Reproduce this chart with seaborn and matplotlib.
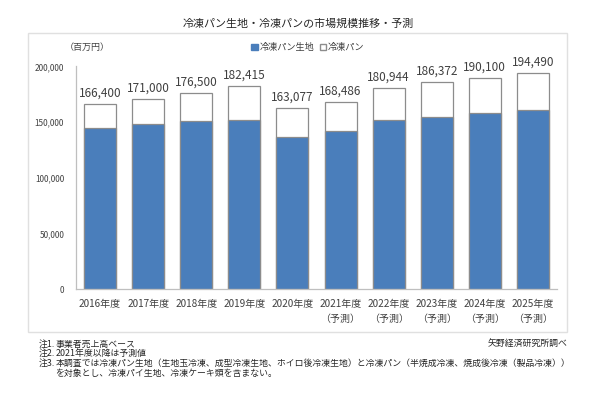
"""
冷凍パン生地・冷凍パンの市場規模推移・予測 (stacked bar recreation)
"""

import matplotlib
matplotlib.use("Agg")
import matplotlib.pyplot as plt
from matplotlib.patches import Patch, Rectangle
import pandas as pd
import seaborn as sns

# --- data (百万円) ---
years = ["2016年度", "2017年度", "2018年度", "2019年度", "2020年度",
         "2021年度", "2022年度", "2023年度", "2024年度", "2025年度"]
forecast = [False, False, False, False, False, True, True, True, True, True]
total = [166400, 171000, 176500, 182415, 163077,
         168486, 180944, 186372, 190100, 194490]
dough = [144500, 148300, 150800, 152400, 136500,
         142200, 151700, 155000, 158000, 161000]

title = "冷凍パン生地・冷凍パンの市場規模推移・予測"
unit_label = "（百万円）"
series_names = ["冷凍パン生地", "冷凍パン"]
notes = [
    ("注1.", "事業者売上高ベース"),
    ("注2.", "2021年度以降は予測値"),
    ("注3.", "本調査では冷凍パン生地（生地玉冷凍、成型冷凍生地、ホイロ後冷凍生地）と冷凍パン（半焼成冷凍、焼成後冷凍（製品冷凍））"),
    ("", "を対象とし、冷凍パイ生地、冷凍ケーキ類を含まない。"),
]
source = "矢野経済研究所調べ"

BLUE = "#4a7ebb"
EDGE = "#8c8c8c"
AXIS = "#bfbfbf"
TEXT = "#404040"

sns.set_theme(style="white")
plt.rcParams["font.family"] = ["Noto Sans CJK JP", "DejaVu Sans"]

df = pd.DataFrame({"year": years, "total": total, "dough": dough})

W, H = 600, 395
fig = plt.figure(figsize=(W / 100, H / 100), dpi=100)
ax = fig.add_axes([76 / W, 1 - 289.3 / H, (557 - 76) / W, (289.3 - 66.5) / H])

# white "冷凍パン" part = full total, blue dough drawn over it
sns.barplot(data=df, x="year", y="total", color="white", saturation=1,
            edgecolor=EDGE, linewidth=0.9, width=0.665, ax=ax)
sns.barplot(data=df, x="year", y="dough", color=BLUE, saturation=1,
            edgecolor=EDGE, linewidth=0.9, width=0.665, ax=ax)

for i, v in enumerate(total):
    ax.annotate(f"{v:,}", (i, v), xytext=(0, 7.6), textcoords="offset points",
                ha="center", va="center", fontsize=8.5, color=TEXT)

ax.set_xlim(-0.5, len(years) - 0.5)
ax.set_ylim(0, 200000)
ax.set_yticks(range(0, 200001, 50000))
ax.set_yticklabels([f"{t:,}" for t in range(0, 200001, 50000)],
                   fontsize=5.9, color=TEXT)
xlabels = [y + ("\n（予測）" if f else "") for y, f in zip(years, forecast)]
ax.set_xticks(range(len(years)))
ax.set_xticklabels(xlabels, fontsize=7.2, color=TEXT, linespacing=1.6)
ax.tick_params(axis="x", length=0, pad=7)
ax.tick_params(axis="y", length=0, pad=8.5)
ax.set_xlabel("")
ax.set_ylabel("")
for side in ["top", "right"]:
    ax.spines[side].set_visible(False)
for side in ["left", "bottom"]:
    ax.spines[side].set_color(AXIS)
    ax.spines[side].set_linewidth(0.9)
ax.grid(False)

# chart frame
fig.patches.append(Rectangle((28 / W, 1 - 331.7 / H), (567 - 28) / W,
                             (331.7 - 32.7) / H, transform=fig.transFigure,
                             fill=False, edgecolor="#e0e0e0", linewidth=1))

fig.text(298.7 / W, 1 - 24 / H, title, ha="center", va="center",
         fontsize=7.9, color="#262626")
fig.text(87 / W, 1 - 47.7 / H, unit_label, ha="center", va="center",
         fontsize=6.5, color=TEXT)

handles = [Patch(facecolor=BLUE, edgecolor=BLUE, label=series_names[0]),
           Patch(facecolor="white", edgecolor=EDGE, label=series_names[1])]
fig.legend(handles=handles, loc="center", bbox_to_anchor=(308 / W, 1 - 47.7 / H),
           ncol=2, frameon=False, fontsize=6.6, handlelength=0.7,
           handleheight=0.7, handletextpad=0.2, columnspacing=0.6,
           labelcolor=TEXT)

for k, (head, body) in enumerate(notes):
    y = 1 - (344 + k * 9.8) / H
    if head:
        fig.text(39 / W, y, head, ha="left", va="center", fontsize=6.4, color="#262626")
    fig.text(55.5 / W, y, body, ha="left", va="center", fontsize=6.4, color="#262626")
fig.text(568 / W, 1 - 344 / H, source, ha="right", va="center",
         fontsize=6.4, color="#262626")

fig.savefig("out.png", dpi=100)
